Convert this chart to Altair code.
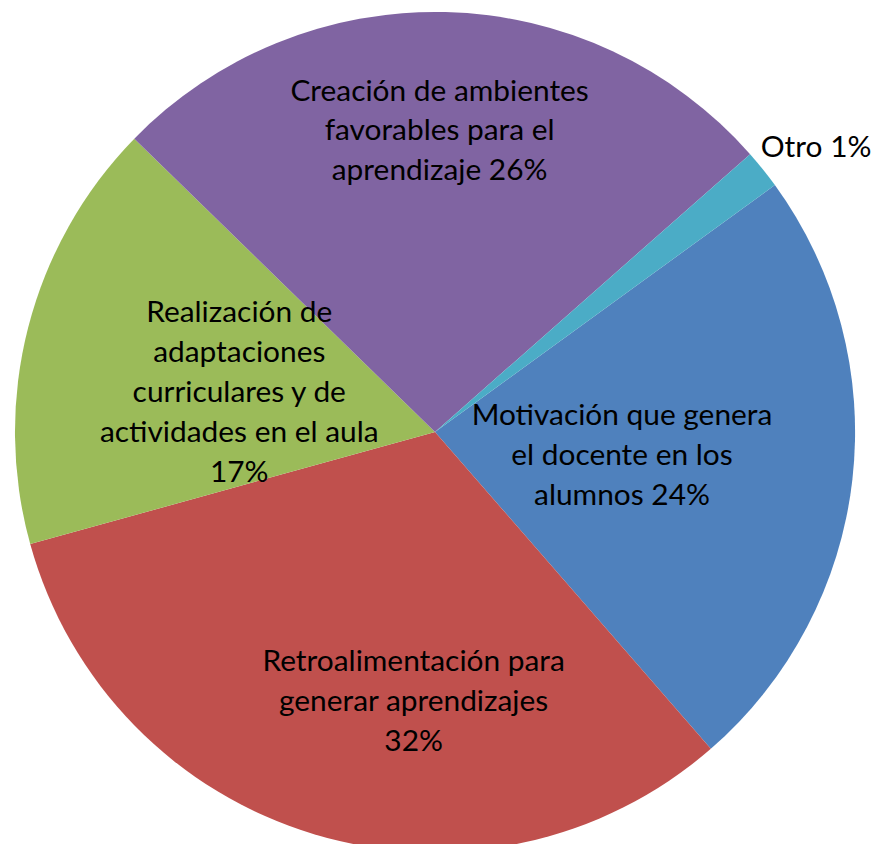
import math
import altair as alt
import pandas as pd

categorias = [
    "Motivación que genera el docente en los alumnos",
    "Retroalimentación para generar aprendizajes",
    "Realización de adaptaciones curriculares y de actividades en el aula",
    "Creación de ambientes favorables para el aprendizaje",
    "Otro",
]
valores = [23.6, 32.1, 16.6, 26.2, 1.5]
etiquetas = [
    "Motivación que genera\nel docente en los\nalumnos 24%",
    "Retroalimentación para\ngenerar aprendizajes\n32%",
    "Realización de\nadaptaciones\ncurriculares y de\nactividades en el aula\n17%",
    "Creación de ambientes\nfavorables para el\naprendizaje 26%",
    "Otro 1%",
]
colores = ["#4F81BD", "#C0504D", "#9BBB59", "#8064A2", "#4BACC6"]

df = pd.DataFrame({
    "categoria": categorias,
    "valor": valores,
    "etiqueta": etiquetas,
    "orden": list(range(len(categorias))),
})

total = float(sum(valores))
start = math.radians(54)
theta_scale = alt.Scale(domain=[0, total], range=[start, start + 2 * math.pi])
CX, CY, R = 429, 424, 422
FONT = "Lato"
LH = 40

pie = alt.Chart(df).mark_arc(radius=R).encode(
    theta=alt.Theta("valor:Q", stack=True, scale=theta_scale),
    order=alt.Order("orden:Q"),
    x=alt.value(CX),
    y=alt.value(CY),
    color=alt.Color("categoria:N", scale=alt.Scale(domain=categorias, range=colores), legend=None),
)

text_base = alt.Chart(df).transform_window(
    acum="sum(valor)", sort=[alt.SortField("orden")]
).transform_calculate(
    medio="datum.acum - datum.valor / 2"
)

# label layout per slice: (radius, dx, dy) ; dy below is for the block centre
label_layout = {
    categorias[0]: (188, 1, 3),
    categorias[1]: (269, 56, 14),
    categorias[2]: (201, -2, 11),
    categorias[3]: (302, -3, 0),
    categorias[4]: (470, 16, 9),
}

layers = [pie]
for cat, etq in zip(categorias, etiquetas):
    rad, dx, dy = label_layout[cat]
    n_lines = etq.count("\n") + 1
    layers.append(
        text_base.transform_filter(alt.datum.categoria == cat).mark_text(
            radius=rad, dx=dx, dy=dy - (n_lines - 1) * LH / 2,
            align="center", baseline="middle",
            font=FONT, fontSize=30, lineHeight=LH, lineBreak="\n", color="#000000",
        ).encode(
            theta=alt.Theta("medio:Q", stack=None, scale=theta_scale),
            x=alt.value(CX),
            y=alt.value(CY),
            text="etiqueta:N",
        )
    )

chart = alt.layer(*layers).properties(
    width=869, height=836, autosize="none", padding=0,
).configure_view(stroke=None)

chart.save("out.html", embed_options={"renderer": "svg", "actions": False})
